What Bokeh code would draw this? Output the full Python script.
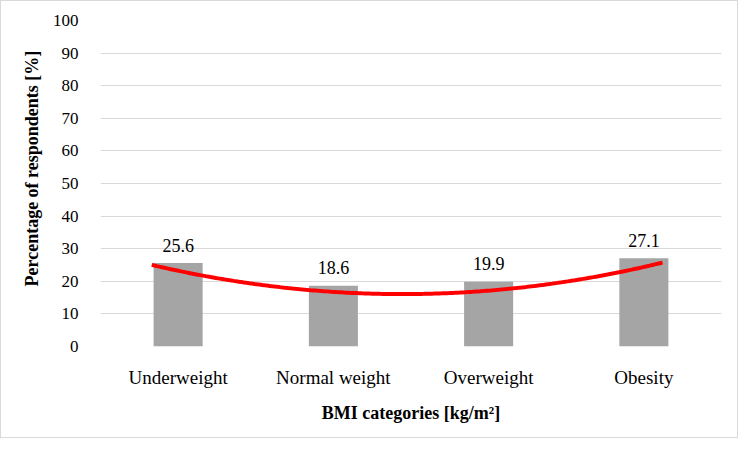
import numpy as np
from bokeh.plotting import figure
from bokeh.models import Range1d, FixedTicker, ColumnDataSource, Title
from bokeh.core.properties import value
from bokeh.embed import file_html
from bokeh.resources import INLINE

categories = ["Underweight", "Normal weight", "Overweight", "Obesity"]
percentages = [25.6, 18.6, 19.9, 27.1]
y_ticks = [0, 10, 20, 30, 40, 50, 60, 70, 80, 90, 100]

# red polynomial trendline (category position, value)
trend_x = [0.83, 1.0, 1.5, 2.0, 2.5, 3.0, 3.5, 4.0, 4.12]
trend_y = [25.4, 23.6, 18.4, 16.0, 16.1, 17.7, 21.0, 24.1, 25.2]

FONT = "Liberation Serif"

xs = list(range(1, len(categories) + 1))
src = ColumnDataSource(dict(x=xs, y=percentages,
                            lbl=[f"{v:.1f}" for v in percentages]))

p = figure(width=738, height=438, output_backend="svg", toolbar_location=None,
           x_range=Range1d(0.5, 4.5), y_range=Range1d(0, 100),
           min_border_left=99, min_border_right=18, min_border_top=19,
           min_border_bottom=93)
p.styles = {"border": "1px solid #d9d9d9", "box-sizing": "border-box"}

p.vbar(x="x", top="y", width=0.316, bottom=0, source=src,
       fill_color="#a5a5a5", line_color=None)

# polynomial (order 2) trendline through the read points
coef = np.polyfit(trend_x, trend_y, 2)
tx = np.linspace(trend_x[0], trend_x[-1], 200)
p.line(tx, np.polyval(coef, tx), line_color="#ff0000", line_width=4)

p.text(x="x", y="y", text="lbl", source=src, text_align="center",
       text_baseline="alphabetic", y_offset=-18,
       text_font=value(FONT), text_font_size="18px", text_color="#000000")

p.xaxis.ticker = FixedTicker(ticks=xs)
p.xaxis.major_label_overrides = {i: c for i, c in zip(xs, categories)}
p.yaxis.ticker = FixedTicker(ticks=y_ticks)

for ax in (p.xaxis[0], p.yaxis[0]):
    ax.axis_line_color = None
    ax.major_tick_line_color = None
    ax.minor_tick_line_color = None
    ax.major_label_text_font = FONT
    ax.major_label_text_color = "#000000"
    ax.axis_label_text_font = FONT
    ax.axis_label_text_font_size = "18px"
    ax.axis_label_text_font_style = "bold"
    ax.axis_label_text_color = "#000000"

p.xaxis.major_label_text_font_size = "19px"
p.yaxis.major_label_text_font_size = "17px"
p.xaxis.axis_label = "BMI categories [kg/m²]"
p.xaxis.major_label_standoff = 14
p.xaxis.axis_label_standoff = 12
p.yaxis.major_label_standoff = 16

ytitle = Title(text="Percentage of respondents [%]", align="left", offset=60,
               text_font=FONT, text_font_size="18px", text_font_style="bold",
               text_color="#000000", standoff=16)
p.add_layout(ytitle, "left")

p.xgrid.grid_line_color = None
p.ygrid.grid_line_color = "#d9d9d9"
p.ygrid.grid_line_width = 1
p.outline_line_color = None
p.background_fill_color = "white"
p.border_fill_color = "white"

open("out.html", "w").write(file_html(p, INLINE))
